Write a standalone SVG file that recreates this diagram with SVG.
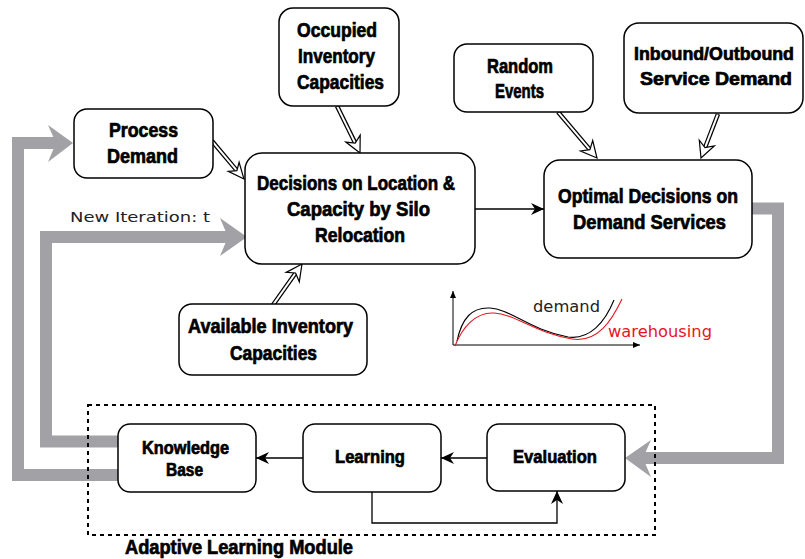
<svg xmlns="http://www.w3.org/2000/svg" width="805" height="559" viewBox="0 0 805 559">
<defs>
<style>
.box{fill:#fff;stroke:#000;stroke-width:1.5}
.t{font-family:"Liberation Sans Narrow","Liberation Sans",Arial,sans-serif;font-weight:bold;font-size:20px;fill:#000;stroke:#000;stroke-width:0.7}
.s18{font-size:18px}
.s19{font-size:19px}
.gray{fill:none;stroke:#a2a2a6;stroke-width:12;stroke-linejoin:miter}
.gh{fill:#a2a2a6}
.thin{fill:none;stroke:#000;stroke-width:1.3}
.dsb{fill:none;stroke:#000;stroke-width:4.5}
.dsw{fill:none;stroke:#fff;stroke-width:2}
.dh{fill:#fff;stroke:#000;stroke-width:1.2;stroke-linejoin:miter}
.lt{font-family:"DejaVu Sans",Verdana,sans-serif;font-size:14.5px}
.lt15{font-size:15px}
</style>
<marker id="ah" markerUnits="userSpaceOnUse" markerWidth="14" markerHeight="12" refX="13" refY="6" orient="auto">
<path d="M0,0 L13,6 L0,12 L4,6 Z" fill="#000"/>
</marker>
<marker id="sa" markerUnits="userSpaceOnUse" markerWidth="8" markerHeight="8" refX="7" refY="4" orient="auto">
<path d="M0,1 L7,4 L0,7 Z" fill="#000"/>
</marker>
</defs>
<rect width="805" height="559" fill="#fff"/>

<g id="connectors">
<path class="gray" d="M752,208.5 H778 V458 H640"/>
<path class="gh" d="M625,458 L651,440 L643,458 L651,477 Z"/>
<path class="gray" d="M118,475 H18 V143 H60"/>
<path class="gh" d="M73,143 L48,125 L56,143 L48,162 Z"/>
<path class="gray" d="M118,441.5 H46 V237 H232"/>
<path class="gh" d="M247,237 L220,218 L228,237 L220,256 Z"/>

<path class="dsb" d="M212,141 L236.9,170.6"/><path class="dsw" d="M212.5,141.6 L236.9,170.6"/>
<path class="dh" d="M244,179 L228.3,171.3 L236.9,170.6 L239.1,162.3 Z"/>
<path class="dsb" d="M337,106 L355.2,143.1"/><path class="dsw" d="M337.3,106.6 L355.2,143.1"/>
<path class="dh" d="M360,153 L345.8,142.1 L355.2,143.1 L360.2,135.1 Z"/>
<path class="dsb" d="M273,305 L295.6,273"/><path class="dsw" d="M273.4,304.4 L295.6,273"/>
<path class="dh" d="M302,264 L299.3,281.7 L295.6,273 L286.2,272.4 Z"/>
<path class="dsb" d="M558,112 L589.9,149.6"/><path class="dsw" d="M558.5,112.6 L589.9,149.6"/>
<path class="dh" d="M597,158 L580.5,151 L589.9,149.6 L592.7,140.6 Z"/>
<path class="dsb" d="M718,114 L705,147.7"/><path class="dsw" d="M717.7,114.7 L705,147.7"/>
<path class="dh" d="M701,158 L699.3,140.2 L705,147.7 L714.3,146 Z"/>

<path class="thin" d="M475,209 H544" marker-end="url(#ah)"/>
<path class="thin" d="M487,458 H441" marker-end="url(#ah)"/>
<path class="thin" d="M303,458 H256" marker-end="url(#ah)"/>
<path class="thin" d="M372,492 V523 H557 V491" marker-end="url(#ah)"/>
</g>

<g id="chart">
<path d="M453,345 V291" fill="none" stroke="#000" stroke-width="1" marker-end="url(#sa)"/>
<path d="M453,345 H640" fill="none" stroke="#000" stroke-width="1" marker-end="url(#sa)"/>
<path d="M457,341 C462,318 472,307 490,308 C510,309 530,330 568,337 C590,340 605,322 614,300" fill="none" stroke="#000" stroke-width="1.1"/>
<path d="M455,346 C462,328 475,312 494,313 C515,314 535,333 572,339 C598,343 612,320 622,299" fill="none" stroke="#e8141c" stroke-width="1.1"/>
<text class="lt lt15" x="533" y="312" textLength="67" lengthAdjust="spacingAndGlyphs" fill="#222">demand</text>
<text class="lt lt15" x="608" y="337" textLength="104" lengthAdjust="spacingAndGlyphs" fill="#e8141c">warehousing</text>
</g>

<text class="lt" x="70" y="222" textLength="140" lengthAdjust="spacingAndGlyphs" fill="#222">New Iteration: t</text>

<g id="process-demand">
<rect class="box" x="74" y="109" width="139" height="69" rx="13"/>
<text class="t" x="109" y="137" textLength="69" lengthAdjust="spacingAndGlyphs">Process</text>
<text class="t" x="107" y="163" textLength="71" lengthAdjust="spacingAndGlyphs">Demand</text>
</g>
<g id="occupied">
<rect class="box" x="279" y="8" width="120" height="98" rx="14"/>
<text class="t" x="297" y="37" textLength="80" lengthAdjust="spacingAndGlyphs">Occupied</text>
<text class="t" x="298" y="63" textLength="77" lengthAdjust="spacingAndGlyphs">Inventory</text>
<text class="t" x="297" y="89" textLength="87" lengthAdjust="spacingAndGlyphs">Capacities</text>
</g>
<g id="decisions-location">
<rect class="box" x="245" y="153" width="230" height="111" rx="17"/>
<text class="t" x="257" y="190" textLength="198" lengthAdjust="spacingAndGlyphs">Decisions on Location &amp;</text>
<text class="t" x="287" y="216" textLength="143" lengthAdjust="spacingAndGlyphs">Capacity by Silo</text>
<text class="t" x="315" y="242" textLength="90" lengthAdjust="spacingAndGlyphs">Relocation</text>
</g>
<g id="random-events">
<rect class="box" x="454" y="44" width="139" height="68" rx="13"/>
<text class="t" x="487" y="73" textLength="66" lengthAdjust="spacingAndGlyphs">Random</text>
<text class="t" x="495" y="98" textLength="49" lengthAdjust="spacingAndGlyphs">Events</text>
</g>
<g id="inbound-outbound">
<rect class="box" x="624" y="23" width="179" height="90" rx="15"/>
<text class="t s18" x="714" y="60" text-anchor="middle" textLength="160" lengthAdjust="spacingAndGlyphs">Inbound/Outbound</text>
<text class="t s18" x="716" y="85" text-anchor="middle" textLength="152" lengthAdjust="spacingAndGlyphs">Service Demand</text>
</g>
<g id="optimal-decisions">
<rect class="box" x="544" y="160" width="208" height="98" rx="16"/>
<text class="t" x="558" y="203" textLength="180" lengthAdjust="spacingAndGlyphs">Optimal Decisions on</text>
<text class="t" x="573" y="229" textLength="153" lengthAdjust="spacingAndGlyphs">Demand Services</text>
</g>
<g id="available-inventory">
<rect class="box" x="179" y="304" width="188" height="71" rx="13"/>
<text class="t" x="188" y="333" textLength="165" lengthAdjust="spacingAndGlyphs">Available Inventory</text>
<text class="t" x="230" y="360" textLength="87" lengthAdjust="spacingAndGlyphs">Capacities</text>
</g>
<g id="knowledge-base">
<rect class="box" x="118" y="424" width="138" height="68" rx="12"/>
<text class="t s18" x="142" y="454" textLength="87" lengthAdjust="spacingAndGlyphs">Knowledge</text>
<text class="t s18" x="166" y="476" textLength="37" lengthAdjust="spacingAndGlyphs">Base</text>
</g>
<g id="learning">
<rect class="box" x="303" y="424" width="138" height="68" rx="12"/>
<text class="t s19" x="335" y="463" textLength="70" lengthAdjust="spacingAndGlyphs">Learning</text>
</g>
<g id="evaluation">
<rect class="box" x="487" y="424" width="138" height="67" rx="12"/>
<text class="t s19" x="513" y="463" textLength="84" lengthAdjust="spacingAndGlyphs">Evaluation</text>
</g>
<g id="adaptive-learning-module">
<rect x="88" y="405" width="567" height="130" fill="none" stroke="#000" stroke-width="2" stroke-dasharray="4,4"/>
<text class="t" x="125" y="554" textLength="228" lengthAdjust="spacingAndGlyphs">Adaptive Learning Module</text>
</g>
</svg>
